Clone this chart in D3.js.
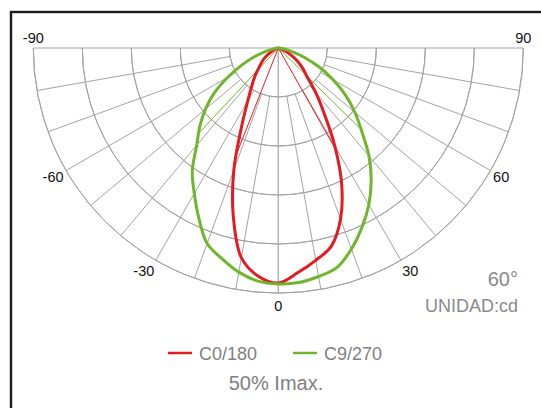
<!DOCTYPE html>
<html lang="es">
<head>
    <meta charset='utf-8'>
    <title>Diagrama polar</title>
    <script src="https://cdn.jsdelivr.net/npm/d3@7"></script>
    <style>
        html, body { margin: 0; padding: 0; background: #fff; }
        svg { display: block; }
    </style>
</head>
<body>
<svg></svg>
<script>
    // gamma angles (degrees from nadir), 5 deg steps
    const angles = d3.range(-90, 91, 5)

    // relative intensity, outer ring = 100
    const c0_180 = [0, 0, 0, 0.4, 1.2, 2.4, 4.1, 6.5, 8.6, 11.0, 14.7, 18.8, 24.9, 35.5, 53.1, 71.0, 86.9, 93.5,
        95.9, 92.0, 88.0, 83.7, 74.3, 61.2, 46.1, 32.7, 23.7, 16.7, 13.1, 9.8, 6.5, 3.7, 1.6, 0.4, 0, 0, 0]
    const c9_270 = [0, 0.4, 2.0, 5.3, 10.2, 16.3, 23.7, 31.8, 38.8, 45.3, 51.8, 61.2, 68.6, 76.7, 84.9, 89.0, 92.9, 95.5,
        96.3, 96.1, 94.7, 92.7, 87.3, 80.8, 73.9, 66.1, 57.6, 48.2, 40.8, 33.5, 25.7, 18.4, 11.4, 6.1, 2.4, 0.8, 0]

    // angles where the curve falls to 50% Imax
    const halfC0 = [-21.5, 29.5]
    const halfC9 = [-43, 45.5]

    const rings = [20, 40, 60, 80, 100]
    const spokes = d3.range(-90, 91, 10)
    const angleLabels = [-90, -60, -30, 0, 30, 60, 90]

    const series = [
        {name: "C0/180", values: c0_180, half: halfC0, color: "#e31b23"},
        {name: "C9/270", values: c9_270, half: halfC9, color: "#70b62c"}
    ]

    const width = 541
    const height = 408
    const cx = 278.3
    const cy = 48
    const R = 245

    const r = d3.scaleLinear().domain([0, 100]).range([0, R])
    const rad = d => d * Math.PI / 180
    const px = (a, v) => cx + r(v) * Math.sin(rad(a))
    const py = (a, v) => cy + r(v) * Math.cos(rad(a))

    const svg = d3.select("svg")
        .attr("width", width)
        .attr("height", height)
        .attr("viewBox", [0, 0, width, height])

    // frame (clipped at right and bottom)
    svg.append("rect")
        .attr("x", 11).attr("y", 12)
        .attr("width", 600).attr("height", 600)
        .attr("fill", "none")
        .attr("stroke", "#1c1c1c")
        .attr("stroke-width", 2.4)

    const grid = svg.append("g")
        .attr("fill", "none")
        .attr("stroke", "#a3a3a3")
        .attr("stroke-width", 1)

    const arc = d3.arc()
    grid.selectAll("path.ring")
        .data(rings)
        .join("path")
        .attr("class", "ring")
        .attr("transform", `translate(${cx},${cy})`)
        .attr("d", d => arc({innerRadius: r(d), outerRadius: r(d), startAngle: Math.PI / 2, endAngle: 3 * Math.PI / 2}))

    grid.selectAll("line.spoke")
        .data(spokes)
        .join("line")
        .attr("class", "spoke")
        .attr("x1", d => (d === 0 || Math.abs(d) === 90) ? px(d, 0) : px(d, rings[0]))
        .attr("y1", d => (d === 0 || Math.abs(d) === 90) ? py(d, 0) : py(d, rings[0]))
        .attr("x2", d => px(d, 100))
        .attr("y2", d => py(d, 100))
        .attr("stroke-width", d => d === 0 ? 1.4 : 1)
        .attr("stroke", d => d === 0 ? "#b0b0b0" : null)

    svg.append("g")
        .attr("font-family", "Liberation Sans, Arial, sans-serif")
        .attr("font-size", 14.5)
        .attr("fill", "#111")
        .selectAll("text")
        .data(angleLabels)
        .join("text")
        .attr("text-anchor", d => Math.abs(d) === 90 || d === 0 ? "middle" : (d < 0 ? "end" : "start"))
        .attr("x", d => Math.abs(d) === 90 ? px(d, 100) : px(d, 100) + 3 * Math.sin(rad(d)))
        .attr("y", d => Math.abs(d) === 90 ? cy - 5 : py(d, 100) + 13 * Math.cos(rad(d)) + 5)
        .text(d => d)

    const line = d3.lineRadial()
        .angle(d => Math.PI - rad(d[0]))
        .radius(d => r(d[1]))
        .curve(d3.curveCatmullRom.alpha(0.5))

    const interp = (s, a) => {
        const i = Math.min(angles.length - 2, Math.floor((a - angles[0]) / 5))
        const t = (a - angles[i]) / 5
        return s.values[i] * (1 - t) + s.values[i + 1] * t
    }

    const plot = svg.append("g").attr("transform", `translate(${cx},${cy})`)

    series.forEach(s => {
        plot.append("g")
            .selectAll("line")
            .data(s.half)
            .join("line")
            .attr("x1", 0).attr("y1", 0)
            .attr("x2", d => px(d, interp(s, d)) - cx)
            .attr("y2", d => py(d, interp(s, d)) - cy)
            .attr("stroke", s.color)
            .attr("stroke-width", 1)
    })

    series.forEach(s => {
        plot.append("path")
            .datum(angles.map((a, i) => [a, s.values[i]]))
            .attr("fill", "none")
            .attr("stroke", s.color)
            .attr("stroke-width", 3)
            .attr("stroke-linejoin", "round")
            .attr("d", line)
    })

    // beam angle / unit
    const info = svg.append("g")
        .attr("font-family", "Liberation Sans, Arial, sans-serif")
        .attr("fill", "#8a8a8a")
        .attr("text-anchor", "end")
    info.append("text").attr("x", 518).attr("y", 286).attr("font-size", 20).text("60°")
    info.append("text").attr("x", 518).attr("y", 312).attr("font-size", 18).text("UNIDAD:cd")

    // legend
    const legend = svg.append("g")
        .attr("font-family", "Liberation Sans, Arial, sans-serif")
        .attr("font-size", 18)
        .attr("fill", "#808080")

    const item = legend.selectAll("g")
        .data(series)
        .join("g")
        .attr("transform", (d, i) => `translate(${168 + i * 125},353)`)
    item.append("line")
        .attr("x1", 0).attr("x2", 24)
        .attr("stroke", d => d.color)
        .attr("stroke-width", 2.5)
    item.append("text")
        .attr("x", 31).attr("y", 7)
        .text(d => d.name)

    legend.append("text")
        .attr("x", 276).attr("y", 390)
        .attr("text-anchor", "middle")
        .attr("font-size", 20)
        .text("50% Imax.")
</script>
</body>
</html>
